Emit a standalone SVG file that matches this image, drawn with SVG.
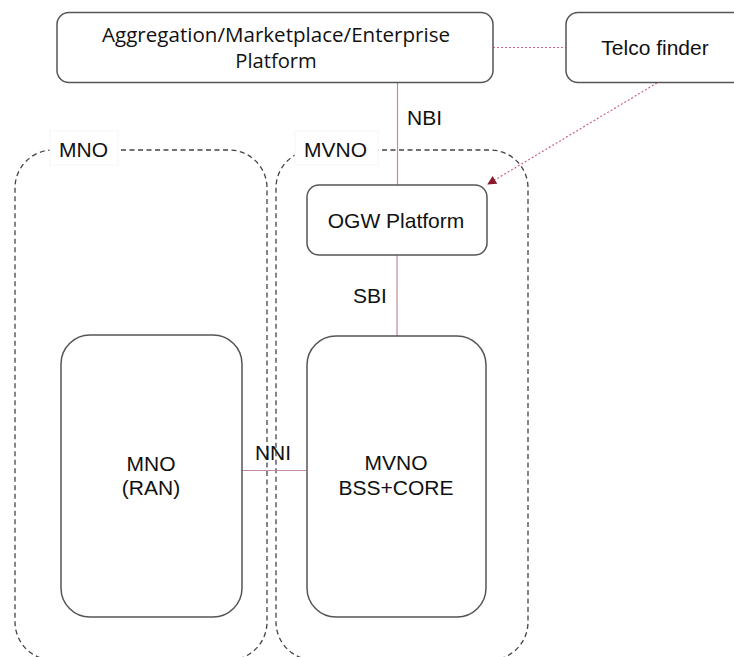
<svg xmlns="http://www.w3.org/2000/svg" width="734" height="657" viewBox="0 0 734 657">
<style>
.box{fill:#fff;stroke:#555;stroke-width:1.5}
.grp{fill:none;stroke:#444;stroke-width:1.3;stroke-dasharray:5,3.5}
.lbg{fill:#fff;stroke:#f6f6f6;stroke-width:1}
.t{font-family:"Liberation Sans",Arial,sans-serif;font-size:21px;fill:#111}
.ts{font-family:"Open Sans","Noto Sans",sans-serif;font-size:20.2px;fill:#111}
.mid{text-anchor:middle}
.link{fill:none;stroke:#c08a96;stroke-width:1.2}
.dot{fill:none;stroke:#cc6680;stroke-width:1.2;stroke-dasharray:2,2}
</style>
<defs>
<marker id="arr" viewBox="0 0 10 10" refX="9" refY="5" markerWidth="9" markerHeight="9" markerUnits="userSpaceOnUse" orient="auto">
<path d="M0,0 L10,5 L0,10 Z" fill="#8b1a2b"/>
</marker>
</defs>
<rect width="734" height="657" fill="#fff"/>
<g id="mno-zone">
<rect class="grp" x="15" y="150" width="252" height="510" rx="38"/>
<rect class="lbg" x="50" y="131" width="68" height="34"/>
<text class="t" x="59" y="157">MNO</text>
</g>
<g id="mvno-zone">
<rect class="grp" x="276" y="150" width="252" height="510" rx="38"/>
<rect class="lbg" x="295" y="131" width="83" height="34"/>
<text class="t" x="304" y="157">MVNO</text>
</g>
<g id="connectors">
<line class="dot" x1="493" y1="47.5" x2="566" y2="47.5"/>
<line class="link" x1="397.5" y1="83" x2="397.5" y2="185"/>
<text class="t" x="407" y="125">NBI</text>
<line class="dot" x1="657" y1="83" x2="488" y2="184" marker-end="url(#arr)"/>
<line class="link" x1="397" y1="255" x2="397" y2="336"/>
<text class="t" x="353" y="303">SBI</text>
<line class="link" x1="242" y1="470.5" x2="306" y2="470.5"/>
<text class="t mid" x="273" y="460">NNI</text>
</g>
<g id="aggregation-platform">
<rect class="box" x="57" y="12.5" width="436" height="70" rx="12"/>
<text class="ts mid" x="276" y="42" textLength="348" lengthAdjust="spacingAndGlyphs">Aggregation/Marketplace/Enterprise</text>
<text class="ts mid" x="276" y="68">Platform</text>
</g>
<g id="telco-finder">
<rect class="box" x="566" y="12.5" width="180" height="70" rx="12"/>
<text class="t mid" x="655" y="55">Telco finder</text>
</g>
<g id="ogw-platform">
<rect class="box" x="307" y="185" width="180" height="70" rx="12"/>
<text class="t mid" x="396" y="228">OGW Platform</text>
</g>
<g id="mno-ran">
<rect class="box" x="61" y="335" width="181" height="282" rx="29"/>
<text class="t mid" x="151" y="471">MNO</text>
<text class="t mid" x="151" y="495">(RAN)</text>
</g>
<g id="mvno-bss-core">
<rect class="box" x="307" y="336" width="179" height="281" rx="29"/>
<text class="t mid" x="396" y="470">MVNO</text>
<text class="t mid" x="396" y="495">BSS+CORE</text>
</g>
</svg>
